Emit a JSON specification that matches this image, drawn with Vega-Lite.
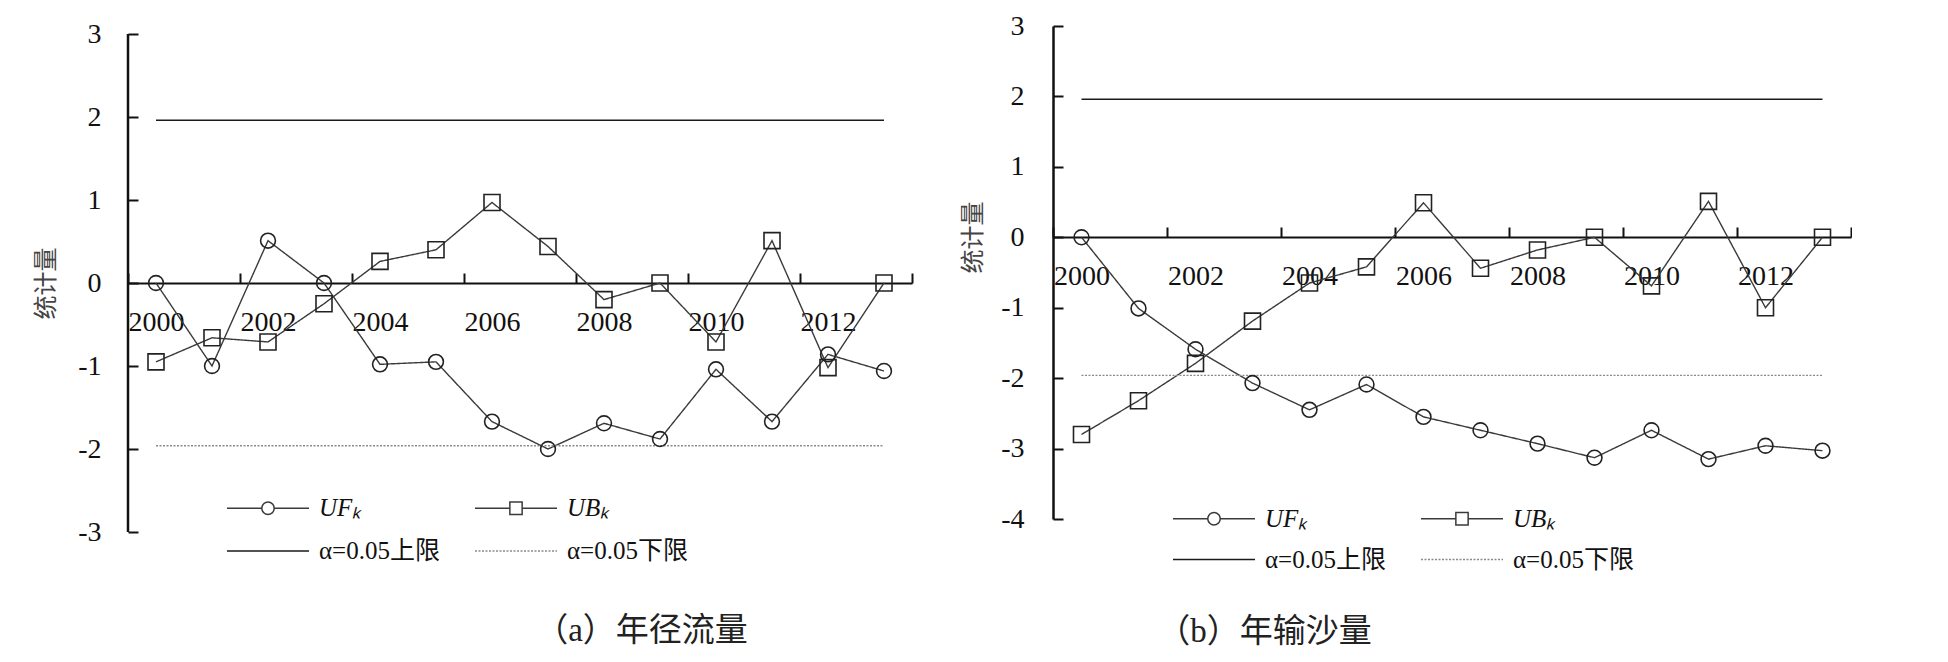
{
  "$schema": "https://vega.github.io/schema/vega-lite/v6.json",
  "background": "white",
  "padding": {"left": 34, "top": 12, "right": 0, "bottom": 0},
  "spacing": 48,
  "config": {"view": {"stroke": null}},
  "datasets": {
    "a": [
      {"year": 2000, "series": "UF", "value": 0}, {"year": 2001, "series": "UF", "value": -1.0}, {"year": 2002, "series": "UF", "value": 0.51}, {"year": 2003, "series": "UF", "value": 0}, {"year": 2004, "series": "UF", "value": -0.98}, {"year": 2005, "series": "UF", "value": -0.95}, {"year": 2006, "series": "UF", "value": -1.67}, {"year": 2007, "series": "UF", "value": -2.0}, {"year": 2008, "series": "UF", "value": -1.69}, {"year": 2009, "series": "UF", "value": -1.88}, {"year": 2010, "series": "UF", "value": -1.04}, {"year": 2011, "series": "UF", "value": -1.67}, {"year": 2012, "series": "UF", "value": -0.86}, {"year": 2013, "series": "UF", "value": -1.06},
      {"year": 2000, "series": "UB", "value": -0.95}, {"year": 2001, "series": "UB", "value": -0.66}, {"year": 2002, "series": "UB", "value": -0.71}, {"year": 2003, "series": "UB", "value": -0.25}, {"year": 2004, "series": "UB", "value": 0.26}, {"year": 2005, "series": "UB", "value": 0.40}, {"year": 2006, "series": "UB", "value": 0.97}, {"year": 2007, "series": "UB", "value": 0.44}, {"year": 2008, "series": "UB", "value": -0.20}, {"year": 2009, "series": "UB", "value": 0}, {"year": 2010, "series": "UB", "value": -0.71}, {"year": 2011, "series": "UB", "value": 0.51}, {"year": 2012, "series": "UB", "value": -1.02}, {"year": 2013, "series": "UB", "value": 0},
      {"year": 2000, "series": "upper", "value": 1.96}, {"year": 2013, "series": "upper", "value": 1.96},
      {"year": 2000, "series": "lower", "value": -1.96}, {"year": 2013, "series": "lower", "value": -1.96}
    ],
    "b": [
      {"year": 2000, "series": "UF", "value": 0}, {"year": 2001, "series": "UF", "value": -1.01}, {"year": 2002, "series": "UF", "value": -1.59}, {"year": 2003, "series": "UF", "value": -2.07}, {"year": 2004, "series": "UF", "value": -2.45}, {"year": 2005, "series": "UF", "value": -2.09}, {"year": 2006, "series": "UF", "value": -2.55}, {"year": 2007, "series": "UF", "value": -2.74}, {"year": 2008, "series": "UF", "value": -2.93}, {"year": 2009, "series": "UF", "value": -3.13}, {"year": 2010, "series": "UF", "value": -2.74}, {"year": 2011, "series": "UF", "value": -3.15}, {"year": 2012, "series": "UF", "value": -2.96}, {"year": 2013, "series": "UF", "value": -3.03},
      {"year": 2000, "series": "UB", "value": -2.80}, {"year": 2001, "series": "UB", "value": -2.32}, {"year": 2002, "series": "UB", "value": -1.79}, {"year": 2003, "series": "UB", "value": -1.19}, {"year": 2004, "series": "UB", "value": -0.65}, {"year": 2005, "series": "UB", "value": -0.42}, {"year": 2006, "series": "UB", "value": 0.49}, {"year": 2007, "series": "UB", "value": -0.44}, {"year": 2008, "series": "UB", "value": -0.18}, {"year": 2009, "series": "UB", "value": 0}, {"year": 2010, "series": "UB", "value": -0.69}, {"year": 2011, "series": "UB", "value": 0.51}, {"year": 2012, "series": "UB", "value": -1.0}, {"year": 2013, "series": "UB", "value": 0},
      {"year": 2000, "series": "upper", "value": 1.96}, {"year": 2013, "series": "upper", "value": 1.96},
      {"year": 2000, "series": "lower", "value": -1.96}, {"year": 2013, "series": "lower", "value": -1.96}
    ]
  },
  "resolve": {
    "scale": {"color": "independent", "shape": "independent", "strokeDash": "independent", "strokeWidth": "independent"},
    "legend": {"color": "independent", "shape": "independent", "strokeDash": "independent", "strokeWidth": "independent"}
  },
  "hconcat": [
    {
      "width": 784,
      "height": 506,
      "data": {"name": "a"},
      "resolve": {"legend": {"color": "independent", "strokeDash": "independent", "strokeWidth": "independent", "shape": "independent"}},
      "encoding": {
        "x": {
          "field": "year", "type": "quantitative",
          "scale": {"domain": [1999.5, 2013.5], "nice": false, "zero": false},
          "axis": {
            "values": [1999.5, 2000, 2001.5, 2002, 2003.5, 2004, 2005.5, 2006, 2007.5, 2008, 2009.5, 2010, 2011.5, 2012, 2013.5],
            "labelExpr": "datum.value % 1 === 0 ? '' + datum.value : ''",
            "offset": -249, "grid": false,
            "tickSize": -10, "tickWidth": 2, "tickColor": "#111",
            "tickOpacity": {"condition": {"test": "datum.value % 1 === 0", "value": 0}, "value": 1},
            "domainColor": "#111", "domainWidth": 2,
            "labelPadding": 35, "labelFont": "Liberation Serif", "labelFontSize": 28, "labelColor": "#111",
            "labelOverlap": false, "labelFlush": false, "labelBound": false,
            "title": "（a）年径流量", "titleX": 513, "titleY": 347, "titleAlign": "center", "titleBaseline": "middle",
            "titleFont": "Liberation Serif, Noto Sans CJK SC", "titleFontSize": 33, "titleFontWeight": "normal", "titleColor": "#222"
          }
        },
        "y": {
          "field": "value", "type": "quantitative",
          "scale": {"domain": [-3, 3.0964], "nice": false, "zero": false},
          "axis": {
            "values": [-3, -2, -1, 0, 1, 2, 3],
            "labelExpr": "'' + datum.value",
            "grid": false, "domain": false, "tickSize": -10, "tickWidth": 2, "tickColor": "#111",
            "labelPadding": 37, "labelFont": "Liberation Serif", "labelFontSize": 28, "labelColor": "#111",
            "title": "统计量", "titleX": -82, "titleY": 257, "titleAngle": 270, "titleAlign": "center", "titleBaseline": "middle",
            "titleFont": "Noto Sans CJK SC", "titleFontSize": 24, "titleFontWeight": "normal", "titleColor": "#444"
          }
        }
      },
      "layer": [
        {
          "transform": [{"filter": "datum.series === 'upper' && datum.year === 2000"}],
          "mark": {"type": "rule", "color": "#111", "strokeWidth": 2.5},
          "encoding": {"x": {"datum": 1999.5, "type": "quantitative"}, "y": {"datum": -3, "type": "quantitative"}, "y2": {"datum": 3}}
        },
        {
          "mark": {"type": "line"},
          "encoding": {
            "detail": {"field": "series"},
            "color": {"field": "series", "type": "nominal", "scale": {"domain": ["UF", "UB", "upper", "lower"], "range": ["#3a3a3a", "#3a3a3a", "#1a1a1a", "#8a8a8a"]}, "legend": null},
            "strokeDash": {"field": "series", "type": "nominal", "scale": {"domain": ["UF", "UB", "upper", "lower"], "range": [[1, 0], [1, 0], [1, 0], [2, 1.5]]}, "legend": null},
            "strokeWidth": {"field": "series", "type": "nominal", "scale": {"domain": ["UF", "UB", "upper", "lower"], "range": [1.4, 1.4, 2.2, 1.6]}, "legend": null}
          }
        },
        {
          "transform": [{"filter": "datum.series === 'UF'"}],
          "mark": {"type": "point", "shape": "circle", "size": 220, "filled": false, "stroke": "#222", "strokeWidth": 1.6, "opacity": 1}
        },
        {
          "transform": [{"filter": "datum.series === 'UB'"}],
          "mark": {"type": "point", "shape": "square", "size": 256, "filled": false, "stroke": "#222", "strokeWidth": 1.6, "opacity": 1}
        },
        {
          "mark": {"type": "point", "filled": false, "opacity": 0},
          "encoding": {
            "shape": {"field": "series", "type": "nominal",
              "scale": {"domain": ["UF", "UB", "upper", "lower"], "range": ["M-2,0H-0.3M0.3,0H2M-0.3,0A0.3,0.3 0 1 1 0.3,0A0.3,0.3 0 1 1 -0.3,0", "M-2,0H-0.3M0.3,0H2M-0.3,-0.3H0.3V0.3H-0.3Z", "M-2,0H2", "M-2,0H2"]},
              "legend": {"title": null, "orient": "none", "legendX": 118.5, "legendY": 460.5, "columns": 2, "direction": "horizontal", "symbolSize": 1681, "symbolStrokeWidth": 1.5, "symbolFillColor": "transparent", "symbolOpacity": 1, "labelFont": "Liberation Serif, Noto Sans CJK SC", "labelFontSize": 25, "labelColor": "#111", "labelOffset": 29.5, "columnPadding": 31, "rowPadding": 8, "labelLimit": 0,
                "labelFontStyle": {"expr": "datum.value == 'UF' || datum.value == 'UB' ? 'italic' : 'normal'"},
                "labelExpr": "datum.value == 'UF' ? 'UFₖ' : datum.value == 'UB' ? 'UBₖ' : datum.value == 'upper' ? 'α=0.05上限' : 'α=0.05下限'"}},
            "color": {"field": "series", "type": "nominal", "scale": {"domain": ["UF", "UB", "upper", "lower"], "range": ["#3a3a3a", "#3a3a3a", "#1a1a1a", "#8a8a8a"]},
              "legend": {"title": null, "orient": "none", "legendX": 118.5, "legendY": 460.5, "columns": 2, "direction": "horizontal"}},
            "strokeDash": {"field": "series", "type": "nominal", "scale": {"domain": ["UF", "UB", "upper", "lower"], "range": [[1, 0], [1, 0], [1, 0], [2, 1.5]]},
              "legend": {"title": null, "orient": "none", "legendX": 118.5, "legendY": 460.5, "columns": 2, "direction": "horizontal"}}
          }
        }
      ]
    },
    {
      "width": 798,
      "height": 493,
      "data": {"name": "b"},
      "resolve": {"legend": {"color": "independent", "strokeDash": "independent", "strokeWidth": "independent", "shape": "independent"}},
      "encoding": {
        "x": {
          "field": "year", "type": "quantitative",
          "scale": {"domain": [1999.5, 2013.5], "nice": false, "zero": false},
          "axis": {
            "values": [1999.5, 2000, 2001.5, 2002, 2003.5, 2004, 2005.5, 2006, 2007.5, 2008, 2009.5, 2010, 2011.5, 2012, 2013.5],
            "labelExpr": "datum.value % 1 === 0 ? '' + datum.value : ''",
            "offset": -282, "grid": false,
            "tickSize": -10, "tickWidth": 2, "tickColor": "#111",
            "tickOpacity": {"condition": {"test": "datum.value % 1 === 0", "value": 0}, "value": 1},
            "domainColor": "#111", "domainWidth": 2,
            "labelPadding": 35, "labelFont": "Liberation Serif", "labelFontSize": 28, "labelColor": "#111",
            "labelOverlap": false, "labelFlush": false, "labelBound": false,
            "title": "（b）年输沙量", "titleX": 211, "titleY": 394, "titleAlign": "center", "titleBaseline": "middle",
            "titleFont": "Liberation Serif, Noto Sans CJK SC", "titleFontSize": 33, "titleFontWeight": "normal", "titleColor": "#222"
          }
        },
        "y": {
          "field": "value", "type": "quantitative",
          "scale": {"domain": [-4, 3], "nice": false, "zero": false},
          "axis": {
            "values": [-4, -3, -2, -1, 0, 1, 2, 3],
            "labelExpr": "'' + datum.value",
            "grid": false, "tickSize": -10, "tickWidth": 2, "tickColor": "#111",
            "domainColor": "#111", "domainWidth": 2.5,
            "labelPadding": 39, "labelFont": "Liberation Serif", "labelFontSize": 28, "labelColor": "#111",
            "title": "统计量", "titleX": -80, "titleY": 211, "titleAngle": 270, "titleAlign": "center", "titleBaseline": "middle",
            "titleFont": "Noto Sans CJK SC", "titleFontSize": 24, "titleFontWeight": "normal", "titleColor": "#444"
          }
        }
      },
      "layer": [
        {
          "mark": {"type": "line"},
          "encoding": {
            "detail": {"field": "series"},
            "color": {"field": "series", "type": "nominal", "scale": {"domain": ["UF", "UB", "upper", "lower"], "range": ["#3a3a3a", "#3a3a3a", "#1a1a1a", "#8a8a8a"]}, "legend": null},
            "strokeDash": {"field": "series", "type": "nominal", "scale": {"domain": ["UF", "UB", "upper", "lower"], "range": [[1, 0], [1, 0], [1, 0], [2, 1.5]]}, "legend": null},
            "strokeWidth": {"field": "series", "type": "nominal", "scale": {"domain": ["UF", "UB", "upper", "lower"], "range": [1.4, 1.4, 2.2, 1.6]}, "legend": null}
          }
        },
        {
          "transform": [{"filter": "datum.series === 'UF'"}],
          "mark": {"type": "point", "shape": "circle", "size": 220, "filled": false, "stroke": "#222", "strokeWidth": 1.6, "opacity": 1}
        },
        {
          "transform": [{"filter": "datum.series === 'UB'"}],
          "mark": {"type": "point", "shape": "square", "size": 256, "filled": false, "stroke": "#222", "strokeWidth": 1.6, "opacity": 1}
        },
        {
          "mark": {"type": "point", "filled": false, "opacity": 0},
          "encoding": {
            "shape": {"field": "series", "type": "nominal",
              "scale": {"domain": ["UF", "UB", "upper", "lower"], "range": ["M-2,0H-0.3M0.3,0H2M-0.3,0A0.3,0.3 0 1 1 0.3,0A0.3,0.3 0 1 1 -0.3,0", "M-2,0H-0.3M0.3,0H2M-0.3,-0.3H0.3V0.3H-0.3Z", "M-2,0H2", "M-2,0H2"]},
              "legend": {"title": null, "orient": "none", "legendX": 139.5, "legendY": 471, "columns": 2, "direction": "horizontal", "symbolSize": 1681, "symbolStrokeWidth": 1.5, "symbolFillColor": "transparent", "symbolOpacity": 1, "labelFont": "Liberation Serif, Noto Sans CJK SC", "labelFontSize": 25, "labelColor": "#111", "labelOffset": 29.5, "columnPadding": 31, "rowPadding": 6, "labelLimit": 0,
                "labelFontStyle": {"expr": "datum.value == 'UF' || datum.value == 'UB' ? 'italic' : 'normal'"},
                "labelExpr": "datum.value == 'UF' ? 'UFₖ' : datum.value == 'UB' ? 'UBₖ' : datum.value == 'upper' ? 'α=0.05上限' : 'α=0.05下限'"}},
            "color": {"field": "series", "type": "nominal", "scale": {"domain": ["UF", "UB", "upper", "lower"], "range": ["#3a3a3a", "#3a3a3a", "#1a1a1a", "#8a8a8a"]},
              "legend": {"title": null, "orient": "none", "legendX": 139.5, "legendY": 471, "columns": 2, "direction": "horizontal"}},
            "strokeDash": {"field": "series", "type": "nominal", "scale": {"domain": ["UF", "UB", "upper", "lower"], "range": [[1, 0], [1, 0], [1, 0], [2, 1.5]]},
              "legend": {"title": null, "orient": "none", "legendX": 139.5, "legendY": 471, "columns": 2, "direction": "horizontal"}}
          }
        }
      ]
    }
  ]
}
